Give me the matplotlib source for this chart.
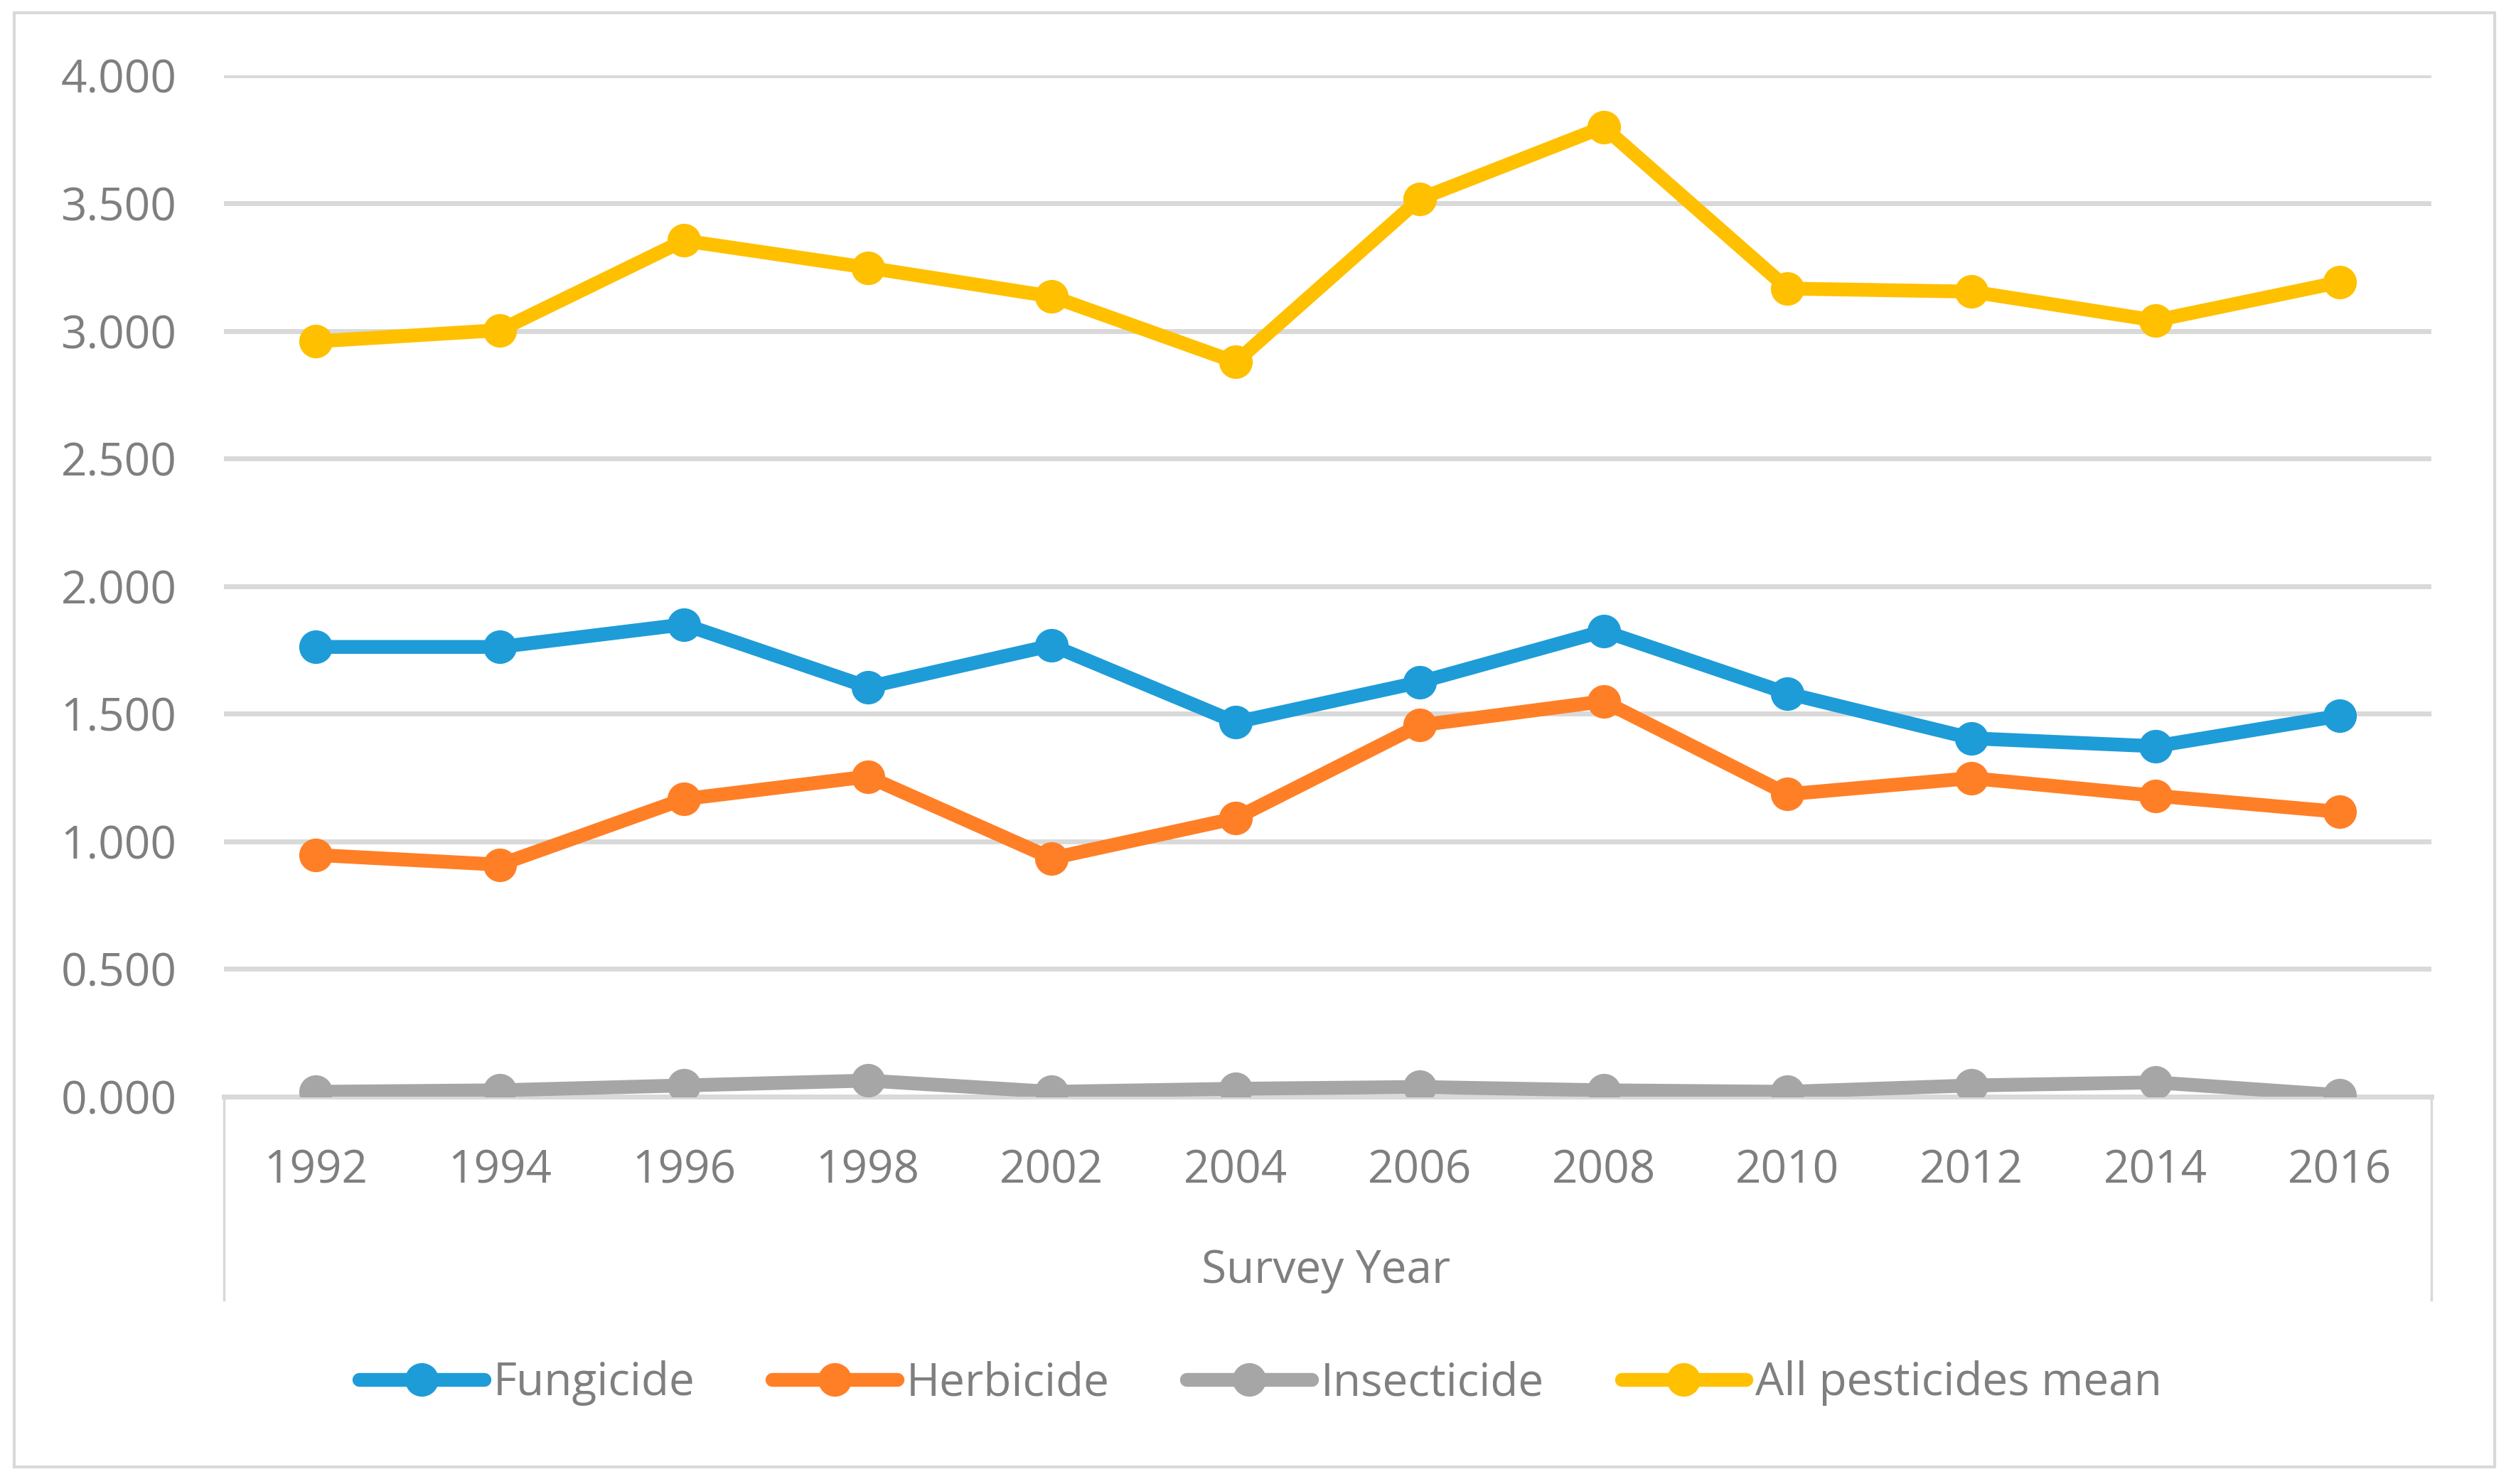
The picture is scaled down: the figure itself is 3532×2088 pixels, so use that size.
import numpy as np
import matplotlib.pyplot as plt
from matplotlib.patches import Rectangle

plt.rcParams['font.family'] = ['Open Sans', 'DejaVu Sans']

# survey years (category axis)
years = ['1992', '1994', '1996', '1998', '2002', '2004',
         '2006', '2008', '2010', '2012', '2014', '2016']

# values
fungicide = [1.762, 1.762, 1.850, 1.605, 1.768, 1.467,
             1.624, 1.824, 1.580, 1.404, 1.373, 1.492]
herbicide = [0.947, 0.909, 1.166, 1.254, 0.934, 1.091,
             1.455, 1.549, 1.185, 1.248, 1.179, 1.116]
insecticide = [0.019, 0.025, 0.044, 0.063, 0.019, 0.031,
               0.038, 0.025, 0.019, 0.044, 0.056, 0.006]
all_mean = [2.959, 3.003, 3.354, 3.248, 3.135, 2.878,
            3.517, 3.799, 3.166, 3.154, 3.041, 3.191]

series_names = ['Fungicide', 'Herbicide', 'Insecticide', 'All pesticides mean']
colors = ['#1E9CD8', '#FF7F27', '#A6A6A6', '#FFC000']

text_col = '#7F7F7F'
grid_col = '#D9D9D9'

fig = plt.figure(figsize=(35.32, 20.88), dpi=100)
ax = fig.add_axes([0.0892, 0.261, 0.8791, 0.688])

x = np.arange(len(years))
for vals, name, col in zip([fungicide, herbicide, insecticide, all_mean], series_names, colors):
    ax.plot(x, vals, color=col, lw=14, marker='o', markersize=33,
            solid_capstyle='round', label=name, zorder=3)

ax.set_xlim(-0.5, len(years) - 0.5)
ax.set_ylim(0, 4)
ax.set_yticks(np.arange(0, 4.01, 0.5))
ax.set_yticklabels([f'{v:.3f}' for v in np.arange(0, 4.01, 0.5)])
ax.set_xticks(x)
ax.set_xticklabels(years)
ax.tick_params(axis='both', length=0, labelsize=46, labelcolor=text_col)
ax.tick_params(axis='y', pad=48)
ax.tick_params(axis='x', pad=52)

ax.grid(axis='y', color=grid_col, lw=5)
ax.set_axisbelow(True)
for s in ['top', 'left', 'right']:
    ax.spines[s].set_visible(False)
ax.spines['bottom'].set_color(grid_col)
ax.spines['bottom'].set_linewidth(5)

# category axis side lines going down below the plot
for xv in [0, 1]:
    ax.plot([xv, xv], [0, -0.199], transform=ax.transAxes, color=grid_col,
            lw=2.5, clip_on=False)

fig.text(0.528, 0.1436, 'Survey Year', ha='center', va='center',
         fontsize=46, color=text_col)

leg = fig.legend(loc='center', bbox_to_anchor=(0.502, 0.068), ncol=4,
                 frameon=False, fontsize=46, handlelength=2.75,
                 handletextpad=0.2, columnspacing=1.7)
for t in leg.get_texts():
    t.set_color(text_col)

# outer chart border
fig.patches.append(Rectangle((20 / 3532, 1 - 2064 / 2088), 3489 / 3532, 2046 / 2088,
                             transform=fig.transFigure, fill=False,
                             edgecolor=grid_col, lw=3))

fig.savefig('out.png', dpi=100)
